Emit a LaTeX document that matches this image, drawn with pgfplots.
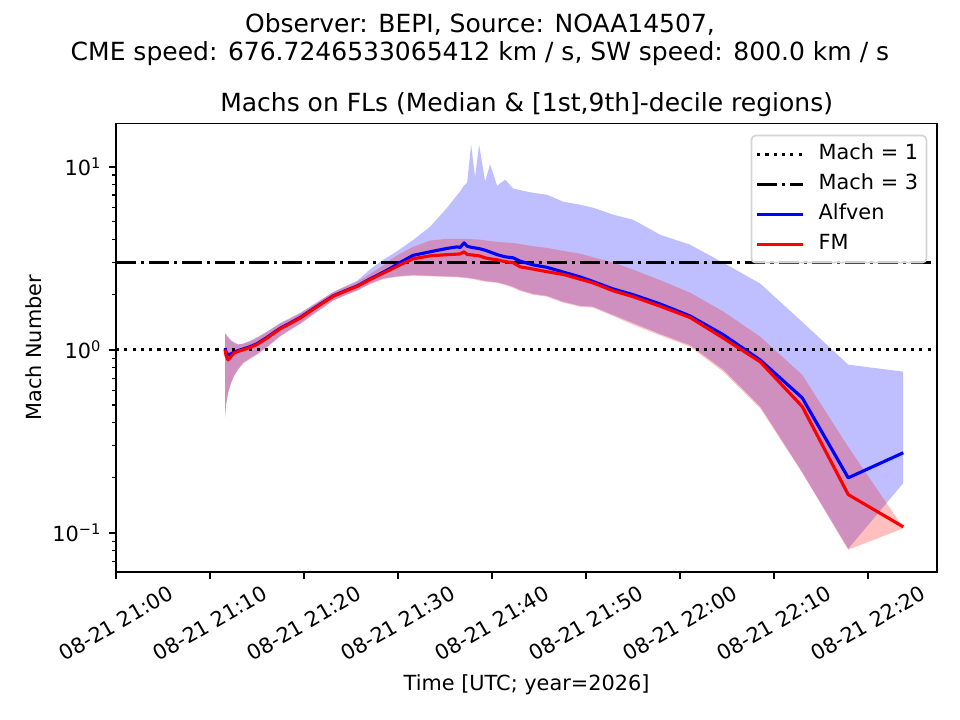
\documentclass[border=0pt]{standalone}
\usepackage{fontspec}
\setmainfont{DejaVu Sans}
\usepackage{pgfplots}
\pgfplotsset{compat=1.18}
\usepackage{pgfplotstable}
\usepgfplotslibrary{fillbetween}

\pgfplotstableread{
t aM fM aU aL fU fL
11.596 1.02 1.00 1.24 0.43 1.22 0.43
11.702 0.97 0.93 1.22 0.50 1.20 0.50
11.915 0.94 0.88 1.18 0.58 1.16 0.58
12.234 0.95 0.92 1.13 0.66 1.12 0.66
12.553 0.97 0.96 1.10 0.72 1.09 0.72
12.979 0.99 0.98 1.07 0.78 1.07 0.78
13.511 1.01 1.00 1.08 0.85 1.08 0.84
14.255 1.04 1.03 1.12 0.90 1.11 0.89
15.000 1.08 1.07 1.17 0.95 1.16 0.94
16.064 1.17 1.16 1.26 1.04 1.25 1.03
17.447 1.31 1.30 1.40 1.19 1.39 1.18
18.511 1.40 1.39 1.49 1.29 1.48 1.28
19.574 1.50 1.49 1.59 1.39 1.58 1.38
21.383 1.73 1.72 1.82 1.62 1.81 1.61
23.085 1.97 1.96 2.07 1.86 2.06 1.85
24.362 2.10 2.09 2.22 1.99 2.21 1.98
25.638 2.23 2.22 2.38 2.11 2.35 2.10
27.021 2.44 2.42 2.75 2.30 2.60 2.28
28.404 2.65 2.62 3.10 2.45 2.88 2.43
29.362 2.82 2.77 3.32 2.50 3.15 2.48
30.213 3.00 2.91 3.55 2.53 3.35 2.51
31.596 3.28 3.14 3.98 2.56 3.65 2.54
33.404 3.43 3.26 4.70 2.54 3.95 2.52
35.213 3.58 3.31 5.97 2.52 4.04 2.50
36.277 3.65 3.33 7.00 2.51 4.04 2.49
36.596 3.62 3.34 7.33 2.50 4.04 2.48
37.021 3.84 3.43 7.90 2.49 4.04 2.47
37.340 3.68 3.32 8.17 2.48 4.03 2.46
37.766 3.63 3.30 13.2 2.46 4.02 2.44
38.191 3.60 3.28 8.80 2.44 4.01 2.42
38.617 3.57 3.26 13.2 2.42 4.00 2.39
39.255 3.50 3.18 8.30 2.38 3.96 2.36
39.787 3.42 3.14 10.3 2.36 3.93 2.34
40.532 3.31 3.10 7.87 2.34 3.89 2.32
41.383 3.22 3.03 8.50 2.28 3.86 2.26
42.234 3.18 2.99 7.60 2.21 3.83 2.18
42.979 3.05 2.84 7.45 2.12 3.78 2.10
44.362 2.91 2.76 7.20 2.02 3.68 2.00
45.851 2.82 2.67 7.03 1.97 3.60 1.95
47.553 2.66 2.58 6.44 1.83 3.47 1.81
49.362 2.50 2.43 6.20 1.74 3.35 1.72
50.745 2.36 2.32 5.97 1.72 3.20 1.70
52.872 2.15 2.10 5.47 1.55 3.00 1.53
55.000 2.00 1.95 5.13 1.40 2.74 1.37
57.872 1.78 1.73 4.25 1.22 2.40 1.20
61.064 1.53 1.50 3.75 1.06 2.05 1.04
64.574 1.21 1.16 2.99 0.78 1.62 0.76
68.511 0.88 0.86 2.30 0.49 1.18 0.48
72.979 0.547 0.49 1.42 0.215 0.73 0.213
77.872 0.20 0.162 0.83 0.082 0.295 0.081
83.723 0.274 0.108 0.76 0.187 0.107 0.106
}\machdata

\begin{document}
\begin{tikzpicture}
\begin{axis}[
  at={(0pt,0pt)}, anchor=south west,
  scale only axis, width=394.2pt, height=215.2pt,
  ymode=log,
  xmin=0, xmax=87.34, ymin=0.0612, ymax=17.18,
  xtick={0,10,20,30,40,50,60,70,80},
  xticklabels={08-21 21:00,08-21 21:10,08-21 21:20,08-21 21:30,08-21 21:40,08-21 21:50,08-21 22:00,08-21 22:10,08-21 22:20},
  xticklabel style={yshift=-21.2pt, rotate=30, anchor=center},
  ytick={0.1,1,10},
  yticklabels={10\textsuperscript{−1},10\textsuperscript{0},10\textsuperscript{1}},
  minor ytick={0.07,0.08,0.09,0.2,0.3,0.4,0.5,0.6,0.7,0.8,0.9,2,3,4,5,6,7,8,9},
  /pgf/number format/assume math mode=true,
  xtick pos=left, ytick pos=left,
  tick align=outside,
  major tick length=3.5pt, minor tick length=2pt,
  every tick/.style={black, line width=0.8pt},
  minor tick style={line width=0.6pt},
  axis line style={black, line width=0.8pt},
  xlabel={Time [UTC; year=2026]},
  xlabel style={at={(axis description cs:0.5,-0.252)}, anchor=center},
  ylabel={Mach Number},
  ylabel style={at={(axis description cs:-0.1005,0.5)}, anchor=center},
  title={Machs on FLs (Median \& [1st,9th]-decile regions)},
  every axis title shift=0pt,
  title style={at={(axis description cs:0.5,1.028)}, anchor=base, yshift=0pt, font=\fontsize{12}{14.4}\selectfont},
  legend cell align=left,
  legend image code/.code={\draw[#1] (0pt,0pt) -- (22pt,0pt);},
  legend style={at={(1,1)}, anchor=north east, xshift=-4.8pt, yshift=-5.3pt,
    draw=black!17, line width=0.8pt, rounded corners=2pt, fill=white, fill opacity=0.8, text opacity=1,
    font=\fontsize{10}{12}\selectfont, inner xsep=2pt, inner ysep=1.7pt, row sep=0pt, column sep=4.8pt,
    nodes={inner sep=2pt, text height=7.8pt, text depth=2.6pt}},
]
\addplot[draw=none, forget plot, name path=aU] table[x=t, y=aU]{\machdata};
\addplot[draw=none, forget plot, name path=aL] table[x=t, y=aL]{\machdata};
\addplot[draw=none, forget plot, name path=fU] table[x=t, y=fU]{\machdata};
\addplot[draw=none, forget plot, name path=fL] table[x=t, y=fL]{\machdata};
\addplot[fill=blue, fill opacity=0.25, draw=none, forget plot] fill between[of=aU and aL];
\addplot[fill=red, fill opacity=0.25, draw=none, forget plot] fill between[of=fU and fL];

\addplot[black, line width=1.5pt, dash pattern=on 1.5pt off 2.475pt] coordinates {(0,1) (87.34,1)};
\addlegendentry{Mach = 1}
\addplot[black, line width=1.5pt, dash pattern=on 9.6pt off 2.4pt on 1.5pt off 2.4pt] coordinates {(0,3) (87.34,3)};
\addlegendentry{Mach = 3}
\addplot[blue, line width=1.5pt, line join=round] table[x=t, y=aM]{\machdata};
\addlegendentry{Alfven}
\addplot[red, line width=1.5pt, line join=round] table[x=t, y=fM]{\machdata};
\addlegendentry{FM}
\end{axis}
\node[anchor=base, font=\fontsize{12}{14.4}\selectfont] at (174.72pt,259.06pt) {Observer: BEPI, Source: NOAA14507,};
\node[anchor=base, font=\fontsize{12}{14.4}\selectfont] at (174.72pt,245.4pt) {CME speed: 676.7246533065412 km / s, SW speed: 800.0 km / s};
\pgfresetboundingbox
\path[use as bounding box] (-55.68pt,-71.04pt) rectangle (405.12pt,274.56pt);
\end{tikzpicture}
\end{document}
